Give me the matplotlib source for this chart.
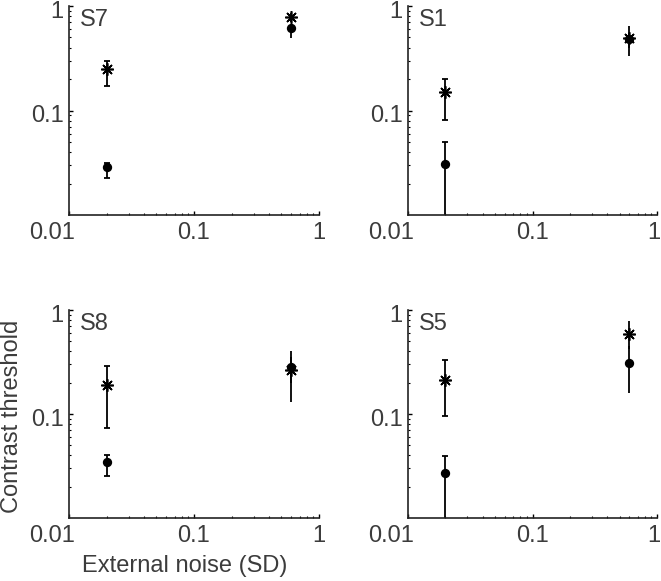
import matplotlib
matplotlib.use("Agg")
import matplotlib.pyplot as plt
from matplotlib.ticker import LogLocator, NullFormatter, FixedLocator

plt.rcParams["font.family"] = ["Liberation Sans", "DejaVu Sans"]

TXT = "#3c3c3c"

# external noise levels (SD)
noise = [0.02, 0.6]
subjects = ["S7", "S1", "S8", "S5"]

# asterisk condition: threshold, lower / upper end of error bar
star = {
    "S7": [0.25, 0.78],
    "S1": [0.151, 0.49],
    "S8": [0.19, 0.265],
    "S5": [0.214, 0.59],
}
star_lo = {
    "S7": [0.17, 0.70],
    "S1": [0.082, 0.33],
    "S8": [0.074, 0.13],
    "S5": [0.0964, 0.42],
}
star_hi = {
    "S7": [0.30, 0.86],
    "S1": [0.202, 0.64],
    "S8": [0.29, 0.40],
    "S5": [0.327, 0.78],
}

# filled circle condition
dot = {
    "S7": [0.0285, 0.61],
    "S1": [0.0305, 0.48],
    "S8": [0.0345, 0.285],
    "S5": [0.0273, 0.31],
}
dot_lo = {
    "S7": [0.0225, 0.49],
    "S1": [0.005, 0.40],
    "S8": [0.0251, 0.20],
    "S5": [0.005, 0.159],
}
dot_hi = {
    "S7": [0.0314, 0.66],
    "S1": [0.0496, 0.55],
    "S8": [0.0404, 0.35],
    "S5": [0.0391, 0.45],
}

xticks = [0.01, 0.1, 1]
xticklabels = ["0.01", "0.1", "1"]
yticks = [0.1, 1]
yticklabels = ["0.1", "1"]

fig = plt.figure(figsize=(6.61, 5.81), dpi=100)

W, H = 661.0, 581.0
# panel boxes in pixels: left, top, right, bottom
boxes = {
    "S7": (69, 6, 319, 215),
    "S1": (408, 6, 657, 215),
    "S8": (69, 310, 319, 518),
    "S5": (408, 310, 657, 518),
}

FS = 17


def draw_pts(ax, y, lo, hi, marker, ms):
    for i, x in enumerate(noise):
        err = [[y[i] - lo[i]], [hi[i] - y[i]]]
        ax.errorbar([x], [y[i]], yerr=err, fmt="none", ecolor="black",
                    elinewidth=1.3, capsize=2.2 if i == 0 else 0, capthick=1.3)
    ax.plot(noise, y, linestyle="none", marker=marker, color="black",
            markersize=ms, markeredgewidth=1.2)


for s in subjects:
    l, t, r, b = boxes[s]
    ax = fig.add_axes([l / W, 1 - b / H, (r - l) / W, (b - t) / H])
    ax.set_xscale("log")
    ax.set_yscale("log")
    ax.set_xlim(0.01, 1)
    ax.set_ylim(0.01, 1)

    draw_pts(ax, star[s], star_lo[s], star_hi[s], (8, 2, 0), 9)
    draw_pts(ax, dot[s], dot_lo[s], dot_hi[s], "o", 5.5)

    for side in ("top", "right"):
        ax.spines[side].set_visible(False)
    for side in ("left", "bottom"):
        ax.spines[side].set_linewidth(1.2)
        ax.spines[side].set_color("#222222")

    ax.xaxis.set_major_locator(FixedLocator(xticks))
    ax.yaxis.set_major_locator(FixedLocator(yticks))
    ax.xaxis.set_minor_locator(LogLocator(base=10, subs=range(2, 10)))
    ax.yaxis.set_minor_locator(LogLocator(base=10, subs=range(2, 10)))
    for a in (ax.xaxis, ax.yaxis):
        a.set_major_formatter(NullFormatter())
        a.set_minor_formatter(NullFormatter())
    ax.tick_params(which="major", direction="in", length=3, width=1)
    ax.tick_params(which="minor", direction="in", length=1.5, width=0.8)

    # tick labels placed like the original (slightly shifted)
    xshift = {"0.01": -12, "0.1": 0, "1": 0 if l < 300 else -2}
    for v, lab in zip(xticks, xticklabels):
        ax.annotate(lab, xy=(v, 0), xycoords=("data", "axes fraction"),
                    xytext=(xshift[lab], -5), textcoords="offset points",
                    ha="center", va="top", fontsize=FS, color=TXT)
    for v, lab in zip(yticks, yticklabels):
        ax.annotate(lab, xy=(0, v), xycoords=("axes fraction", "data"),
                    xytext=(-4, -4), textcoords="offset points",
                    ha="right", va="center", fontsize=FS, color=TXT)

    ax.text(0.045, 0.985, s, transform=ax.transAxes, ha="left", va="top",
            fontsize=FS, color=TXT)

fig.text(12 / W, 1 - 416 / H, "Contrast threshold", rotation=90,
         ha="center", va="center", fontsize=17, color=TXT)
fig.text(185 / W, 1 - 566 / H, "External noise (SD)",
         ha="center", va="center", fontsize=17, color=TXT)

fig.savefig("out.png", dpi=100)
